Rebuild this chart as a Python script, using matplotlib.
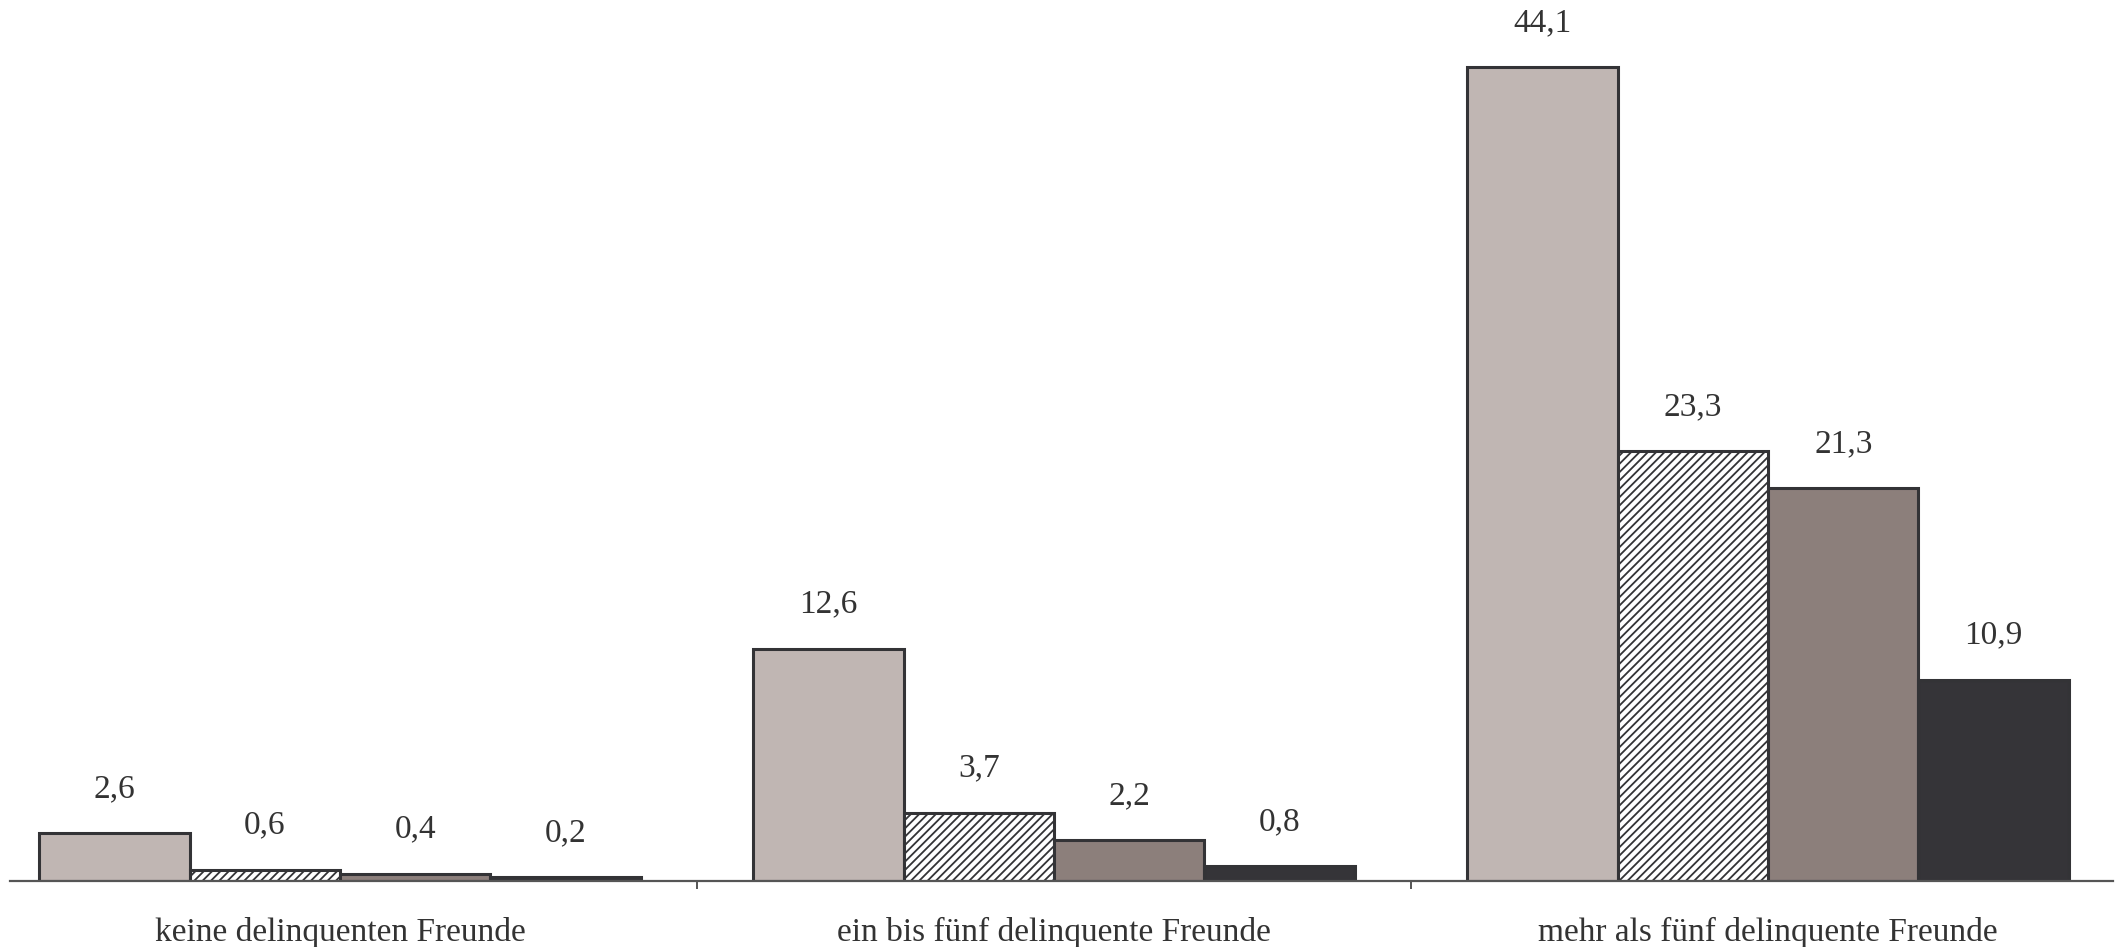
import numpy as np
import matplotlib
matplotlib.use("Agg")
import matplotlib.pyplot as plt

plt.rcParams['font.family'] = ['Liberation Serif', 'DejaVu Serif']
plt.rcParams['hatch.color'] = '#2f2f33'
plt.rcParams['hatch.linewidth'] = 1.3

# Data
categories = ['keine delinquenten Freunde', 'ein bis fünf delinquente Freunde',
              'mehr als fünf delinquente Freunde']
series_1 = [2.6, 12.6, 44.1]
series_2 = [0.6, 3.7, 23.3]
series_3 = [0.4, 2.2, 21.3]
series_4 = [0.2, 0.8, 10.9]

series = [series_1, series_2, series_3, series_4]
face_colors = ['#c0b6b3', 'white', '#8c7f7b', '#353438']
hatches = [None, '////', None, None]
text_color = '#333333'

W, H = 2116, 947
fig = plt.figure(figsize=(W / 100, H / 100), dpi=100)
# axes placed in pixels: baseline at y=881, left spine end at x=10
ax = fig.add_axes([10 / W, 66 / H, 2103 / W, 881 / H])

x = np.arange(len(categories))
bar_w = 0.2107
offsets = (np.arange(4) - 1.5) * bar_w

for i, vals in enumerate(series):
    bars = ax.bar(x + offsets[i], vals, width=bar_w, color=face_colors[i],
                  hatch=hatches[i], edgecolor='#333336', linewidth=2.2, zorder=2)
    for b, v in zip(bars, vals):
        ax.annotate(f'{v:.1f}'.replace('.', ','),
                    (b.get_x() + b.get_width() / 2, b.get_height()),
                    xytext=(0, 21), textcoords='offset points',
                    ha='center', va='bottom', fontsize=24, color=text_color)

# data x -> pixel: 340 + 714 * x
ax.set_xlim(-330 / 714, (2113 - 340) / 714)
ax.set_ylim(0, 881 / 18.45)

for s in ['top', 'right', 'left']:
    ax.spines[s].set_visible(False)
ax.spines['bottom'].set_color('#555555')
ax.spines['bottom'].set_linewidth(1.6)
ax.spines['bottom'].set_zorder(3)
ax.set_yticks([])

ax.set_xticks(x)
ax.set_xticklabels(categories, fontsize=24, color=text_color)
ax.tick_params(axis='x', which='major', length=0, pad=26)
ax.set_xticks([0.5, 1.5], minor=True)
ax.tick_params(axis='x', which='minor', length=6, width=1.4, color='#555555')

fig.savefig('out.png', dpi=100, facecolor='white')
